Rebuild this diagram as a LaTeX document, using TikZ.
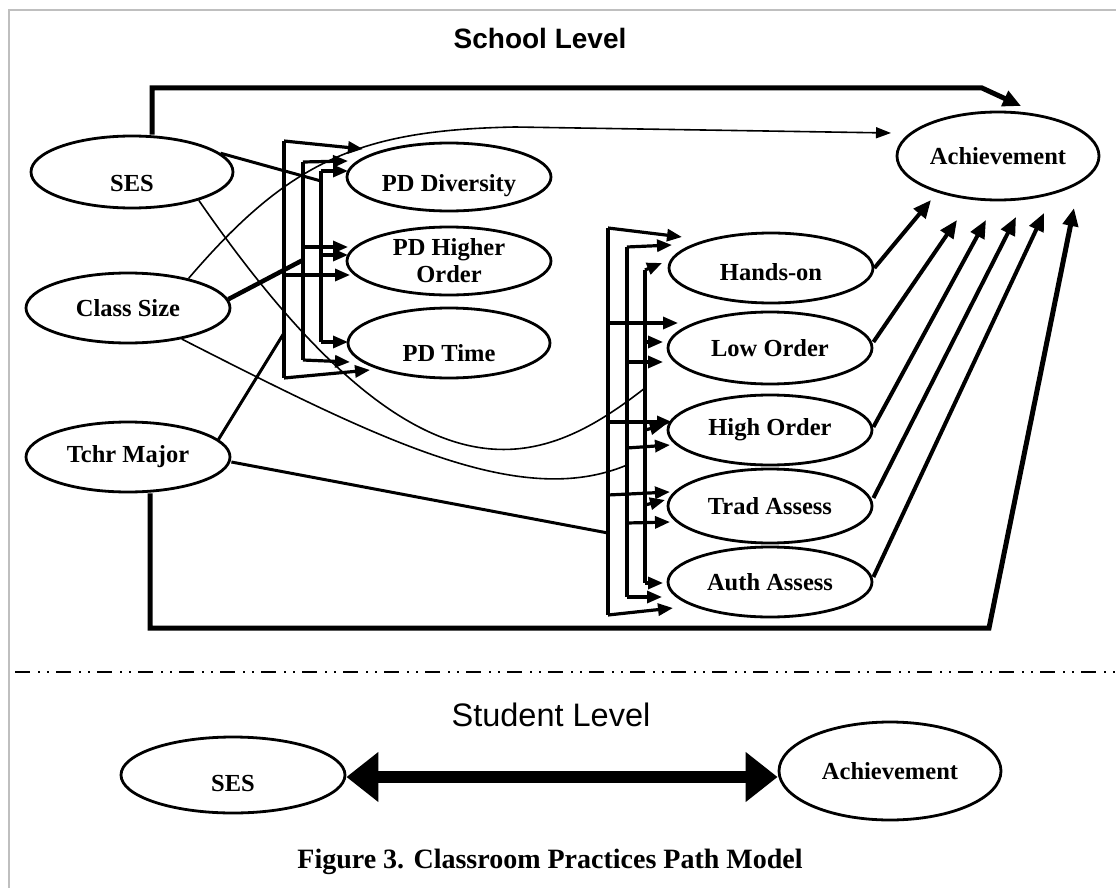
\documentclass[tikz,border=0pt]{standalone}
\usepackage{fontspec}
\setmainfont{Liberation Serif}
\setsansfont{Liberation Sans}
\usetikzlibrary{arrows.meta,shapes.geometric}
\begin{document}
\begin{tikzpicture}[x=1pt,y=-1pt,line join=miter,
  ell/.style={ellipse,draw,line width=2.8pt,inner sep=0pt,align=center,font=\fontsize{24.5}{27}\selectfont\bfseries},
  low/.style={text height=#1,text depth=0pt},
  arr/.style={-{Triangle[length=15pt,width=12pt]}},
  brk/.style={line width=3.2pt},
  conn/.style={line width=3pt},
  thinl/.style={line width=1.6pt},
  heavy/.style={line width=5pt},
  toach/.style={line width=4pt,-{Triangle[length=18pt,width=15pt]}},
  ttl/.style={font=\sffamily\fontsize{32.5}{34}\selectfont}]
\useasboundingbox (0,0) rectangle (1116,888);
\fill[white] (0,0) rectangle (1116,888);
\coordinate (fa) at (9,888); \coordinate (fb) at (9,10); \coordinate (fc) at (1116,10);
\draw[black!25,line width=1.5pt] (fa) -- (fb) -- (fc);

% titles
\node[font=\sffamily\bfseries\fontsize{28}{30}\selectfont] (school) at (540,38) {School Level};
\node[ttl] (student) at (551,715) {Student Level};
\node[font=\fontsize{28}{30}\selectfont\bfseries] (caption) at (550,862) {Figure 3. Classroom Practices Path Model};

% school level nodes
\node[ell,low=38pt,minimum width=202pt,minimum height=72pt] (ses) at (132,172) {SES};
\node[ell,minimum width=204pt,minimum height=70pt] (cs) at (128,308) {Class Size};
\node[ell,minimum width=204pt,minimum height=70pt] (tm) at (128,457) {Tchr Major};
\node[ell,low=28pt,minimum width=204pt,minimum height=68pt] (pdd) at (449,177) {PD Diversity};
\node[ell,minimum width=204pt,minimum height=68pt] (pdh) at (449,261) {PD Higher\\Order};
\node[ell,low=36pt,minimum width=202pt,minimum height=70pt] (pdt) at (449,343) {PD Time};
\node[ell,minimum width=202pt,minimum height=88pt] (ach) at (998,156) {Achievement};
\node[ell,low=24pt,minimum width=204pt,minimum height=70pt] (ho) at (771,268) {Hands-on};
\node[ell,minimum width=204pt,minimum height=72pt] (lo) at (770,348) {Low Order};
\node[ell,minimum width=204pt,minimum height=70pt] (hi) at (770,430) {High Order};
\node[ell,minimum width=204pt,minimum height=74pt] (ta) at (770,506) {Trad Assess};
\node[ell,minimum width=204pt,minimum height=70pt] (aa) at (770,582) {Auth Assess};

% student level nodes
\node[ell,low=32pt,minimum width=224pt,minimum height=76pt] (ses2) at (233,775) {SES};
\node[ell,minimum width=222pt,minimum height=98pt] (ach2) at (890,771) {Achievement};

% ---- left brackets (to PD nodes)
\coordinate (LOt) at (284,141); \coordinate (LOm) at (284,275); \coordinate (LOb) at (284,378); \coordinate (LOj) at (284,333);
\coordinate (LOa) at (363,149); \coordinate (LOc) at (350,275); \coordinate (LOe) at (370,370);
\coordinate (LMt) at (303,162); \coordinate (LMm) at (303,247); \coordinate (LMb) at (303,360); \coordinate (LMj) at (303,260);
\coordinate (LMa) at (348,161); \coordinate (LMc) at (348,247); \coordinate (LMe) at (350,362);
\coordinate (LIt) at (321,171); \coordinate (LIm) at (321,255); \coordinate (LIb) at (321,342); \coordinate (LIj) at (321,181);
\coordinate (LIa) at (348,171); \coordinate (LIc) at (348,255); \coordinate (LIe) at (348,342);

\draw[brk] (LOt) -- (LOb);
\draw[brk] (LMt) -- (LMb);
\draw[brk] (LIt) -- (LIb);
\draw[brk,arr] (LOt) -- (LOa);
\draw[brk,arr] (LOm) -- (LOc);
\draw[brk,arr] (LOb) -- (LOe);
\draw[brk,arr] (LMt) -- (LMa);
\draw[brk,arr] (LMm) -- (LMc);
\draw[brk,arr] (LMb) -- (LMe);
\draw[brk,arr] (LIt) -- (LIa);
\draw[brk,arr] (LIm) -- (LIc);
\draw[brk,arr] (LIb) -- (LIe);

\draw[conn] (ses.12) -- (LIj);
\draw[line width=4.5pt] (cs.5) -- (LMj);
\draw[conn] (tm.11) -- (LOj);

% ---- right brackets (to practice nodes)
\coordinate (ROt) at (608,228); \coordinate (ROb) at (608,615); \coordinate (ROj) at (608,533);
\coordinate (RO2) at (608,323); \coordinate (RO3) at (608,422); \coordinate (RO4) at (608,495);
\coordinate (ROa) at (682,237); \coordinate (ROc) at (678,323); \coordinate (ROd) at (672,422); \coordinate (ROe) at (670,492); \coordinate (ROf) at (673,608);
\coordinate (RMt) at (627,247); \coordinate (RMb) at (627,597); \coordinate (RMj) at (627,465);
\coordinate (RM2) at (627,362); \coordinate (RM3) at (627,448); \coordinate (RM4) at (627,523);
\coordinate (RMa) at (672,245); \coordinate (RMc) at (663,362); \coordinate (RMd) at (670,445); \coordinate (RMe) at (670,522); \coordinate (RMf) at (662,597);
\coordinate (RIt) at (645,270); \coordinate (RIb) at (645,583); \coordinate (RIj) at (645,388);
\coordinate (RI2) at (645,342); \coordinate (RI3) at (645,430); \coordinate (RI4) at (645,505);
\coordinate (RIa) at (662,263); \coordinate (RIc) at (663,342); \coordinate (RId) at (665,425); \coordinate (RIe) at (665,500); \coordinate (RIf) at (663,583);

\draw[brk] (ROt) -- (ROb);
\draw[brk] (RMt) -- (RMb);
\draw[brk] (RIt) -- (RIb);
\draw[brk,arr] (ROt) -- (ROa);
\draw[brk,arr] (RO2) -- (ROc);
\draw[brk,arr] (RO3) -- (ROd);
\draw[brk,arr] (RO4) -- (ROe);
\draw[brk,arr] (ROb) -- (ROf);
\draw[brk,arr] (RMt) -- (RMa);
\draw[brk,arr] (RM2) -- (RMc);
\draw[brk,arr] (RM3) -- (RMd);
\draw[brk,arr] (RM4) -- (RMe);
\draw[brk,arr] (RMb) -- (RMf);
\draw[brk,arr] (RIt) -- (RIa);
\draw[brk,arr] (RI2) -- (RIc);
\draw[brk,arr] (RI3) -- (RId);
\draw[brk,arr] (RI4) -- (RIe);
\draw[brk,arr] (RIb) -- (RIf);

\draw[conn] ([yshift=-5pt]tm.east) -- (ROj);
\draw[thinl] (ses.-23) .. controls (420,520) and (540,470) .. (RIj);
\draw[thinl] (cs.-30) .. controls (380,440) and (520,510) .. (RMj);

% ---- paths to Achievement
\coordinate (c1) at (982,88); \coordinate (tA) at (1021,106);
\coordinate (c2) at (989,628);
\coordinate (t1) at (931,200); \coordinate (t2) at (957,220); \coordinate (t3) at (986,220);
\coordinate (t4) at (1016,217); \coordinate (t5) at (1044,213); \coordinate (t6) at (1074,208);
\coordinate (tC) at (891,133); \coordinate (cm) at (515,127);

\draw[heavy,-{Triangle[length=18pt,width=16pt]}] ([xshift=20pt]ses.north) |- (c1) -- (tA);
\draw[heavy,-{Triangle[length=18pt,width=15pt]}] ([xshift=22pt]tm.south) |- (c2) -- (t6);
\draw[thinl,-{Triangle[length=15pt,width=11pt]}] (cs.26) .. controls (290,160) and (360,130) .. (cm) -- (tC);
\draw[toach] (ho.east) -- (t1);
\draw[toach] ([yshift=6pt]lo.east) -- (t2);
\draw[toach] ([yshift=3pt]hi.east) -- (t3);
\draw[toach] ([yshift=8pt]ta.east) -- (t4);
\draw[toach] ([yshift=5pt]aa.east) -- (t5);

% ---- separator
\coordinate (sa) at (15,672); \coordinate (sb) at (1116,672);
\draw[line width=2pt,dash pattern=on 15pt off 8pt on 2pt off 7pt on 2pt off 7pt] (sa) -- (sb);

% ---- student level
\draw[line width=12pt,{Triangle[length=32pt,width=48pt]}-{Triangle[length=32pt,width=48pt]}]
  ([yshift=-2pt]ses2.east) -- ([yshift=-6pt]ach2.west);
\end{tikzpicture}
\end{document}
